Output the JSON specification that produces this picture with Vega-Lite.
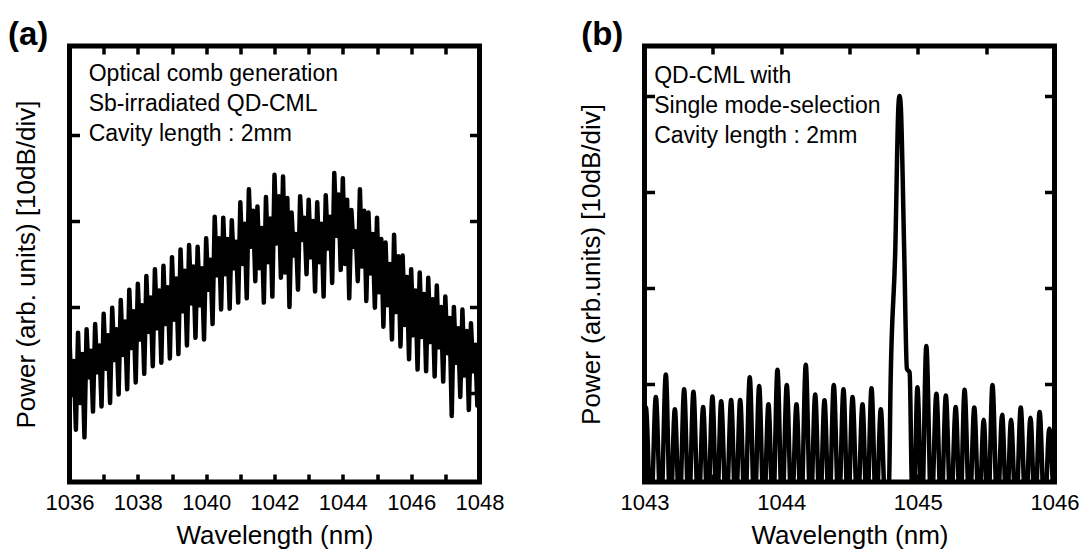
{
  "$schema": "https://vega.github.io/schema/vega-lite/v6.json",
  "autosize": {"type": "pad"},
  "padding": {"left": 5.5, "top": 16, "right": 5, "bottom": 0},
  "background": "white",
  "bounds": "flush",
  "spacing": 165,
  "config": {
    "view": {"stroke": "black", "strokeWidth": 5},
    "font": "Liberation Sans",
    "axis": {
      "domain": false, "grid": false, "ticks": true, "tickColor": "black", "tickWidth": 3.5, "tickOpacity": 1,
      "labelColor": "black", "titleColor": "black",
      "labelFont": "Liberation Sans", "titleFont": "Liberation Sans",
      "labelFontSize": 22, "titleFontSize": 26, "titleFontWeight": "normal",
      "labelFlush": false, "labelOverlap": false
    },
    "text": {"font": "Liberation Sans", "color": "black"}
  },
  "datasets": {
    "combA": [
      {"w":1036,"p":1.62},{"w":1036.0625,"p":0.97},{"w":1036.125,"p":1.37},{"w":1036.1875,"p":0.57},
      {"w":1036.25,"p":1.70},{"w":1036.3125,"p":0.88},{"w":1036.375,"p":1.45},{"w":1036.4375,"p":0.48},
      {"w":1036.5,"p":1.74},{"w":1036.5625,"p":1.18},{"w":1036.625,"p":1.49},{"w":1036.6875,"p":0.78},
      {"w":1036.75,"p":1.80},{"w":1036.8125,"p":1.24},{"w":1036.875,"p":1.55},{"w":1036.9375,"p":0.84},
      {"w":1037,"p":1.92},{"w":1037.0625,"p":1.28},{"w":1037.125,"p":1.67},{"w":1037.1875,"p":0.88},
      {"w":1037.25,"p":1.99},{"w":1037.3125,"p":1.38},{"w":1037.375,"p":1.74},{"w":1037.4375,"p":0.98},
      {"w":1037.5,"p":2.08},{"w":1037.5625,"p":1.44},{"w":1037.625,"p":1.83},{"w":1037.6875,"p":1.04},
      {"w":1037.75,"p":2.20},{"w":1037.8125,"p":1.52},{"w":1037.875,"p":1.95},{"w":1037.9375,"p":1.12},
      {"w":1038,"p":2.27},{"w":1038.0625,"p":1.62},{"w":1038.125,"p":2.02},{"w":1038.1875,"p":1.22},
      {"w":1038.25,"p":2.36},{"w":1038.3125,"p":1.71},{"w":1038.375,"p":2.11},{"w":1038.4375,"p":1.31},
      {"w":1038.5,"p":2.44},{"w":1038.5625,"p":1.75},{"w":1038.625,"p":2.19},{"w":1038.6875,"p":1.35},
      {"w":1038.75,"p":2.48},{"w":1038.8125,"p":1.80},{"w":1038.875,"p":2.23},{"w":1038.9375,"p":1.40},
      {"w":1039,"p":2.58},{"w":1039.0625,"p":1.85},{"w":1039.125,"p":2.33},{"w":1039.1875,"p":1.45},
      {"w":1039.25,"p":2.67},{"w":1039.3125,"p":1.95},{"w":1039.375,"p":2.42},{"w":1039.4375,"p":1.55},
      {"w":1039.5,"p":2.72},{"w":1039.5625,"p":2.04},{"w":1039.625,"p":2.47},{"w":1039.6875,"p":1.64},
      {"w":1039.75,"p":2.70},{"w":1039.8125,"p":2.02},{"w":1039.875,"p":2.45},{"w":1039.9375,"p":1.62},
      {"w":1040,"p":2.80},{"w":1040.0625,"p":2.20},{"w":1040.125,"p":2.55},{"w":1040.1875,"p":1.80},
      {"w":1040.25,"p":3.05},{"w":1040.3125,"p":2.37},{"w":1040.375,"p":2.80},{"w":1040.4375,"p":1.97},
      {"w":1040.5,"p":3.04},{"w":1040.5625,"p":2.38},{"w":1040.625,"p":2.79},{"w":1040.6875,"p":1.98},
      {"w":1040.75,"p":3.01},{"w":1040.8125,"p":2.45},{"w":1040.875,"p":2.76},{"w":1040.9375,"p":2.05},
      {"w":1041,"p":3.22},{"w":1041.0625,"p":2.50},{"w":1041.125,"p":2.97},{"w":1041.1875,"p":2.10},
      {"w":1041.25,"p":3.37},{"w":1041.3125,"p":2.70},{"w":1041.375,"p":3.12},{"w":1041.4375,"p":2.30},
      {"w":1041.5,"p":3.17},{"w":1041.5625,"p":2.45},{"w":1041.625,"p":2.92},{"w":1041.6875,"p":2.05},
      {"w":1041.75,"p":3.28},{"w":1041.8125,"p":2.52},{"w":1041.875,"p":3.03},{"w":1041.9375,"p":2.12},
      {"w":1042,"p":3.54},{"w":1042.0625,"p":2.74},{"w":1042.125,"p":3.29},{"w":1042.1875,"p":2.34},
      {"w":1042.25,"p":3.52},{"w":1042.3125,"p":2.40},{"w":1042.375,"p":3.27},{"w":1042.4375,"p":2.00},
      {"w":1042.5,"p":3.10},{"w":1042.5625,"p":2.60},{"w":1042.625,"p":2.85},{"w":1042.6875,"p":2.20},
      {"w":1042.75,"p":3.29},{"w":1042.8125,"p":2.78},{"w":1042.875,"p":3.04},{"w":1042.9375,"p":2.38},
      {"w":1043,"p":3.25},{"w":1043.0625,"p":2.58},{"w":1043.125,"p":3.00},{"w":1043.1875,"p":2.18},
      {"w":1043.25,"p":3.22},{"w":1043.3125,"p":2.52},{"w":1043.375,"p":2.97},{"w":1043.4375,"p":2.12},
      {"w":1043.5,"p":3.30},{"w":1043.5625,"p":2.68},{"w":1043.625,"p":3.05},{"w":1043.6875,"p":2.28},
      {"w":1043.75,"p":3.56},{"w":1043.8125,"p":2.83},{"w":1043.875,"p":3.31},{"w":1043.9375,"p":2.43},
      {"w":1044,"p":3.50},{"w":1044.0625,"p":2.50},{"w":1044.125,"p":3.25},{"w":1044.1875,"p":2.10},
      {"w":1044.25,"p":3.13},{"w":1044.3125,"p":2.70},{"w":1044.375,"p":2.88},{"w":1044.4375,"p":2.30},
      {"w":1044.5,"p":3.37},{"w":1044.5625,"p":2.47},{"w":1044.625,"p":3.12},{"w":1044.6875,"p":2.07},
      {"w":1044.75,"p":3.10},{"w":1044.8125,"p":2.39},{"w":1044.875,"p":2.85},{"w":1044.9375,"p":1.99},
      {"w":1045,"p":3.04},{"w":1045.0625,"p":2.17},{"w":1045.125,"p":2.79},{"w":1045.1875,"p":1.77},
      {"w":1045.25,"p":2.75},{"w":1045.3125,"p":2.02},{"w":1045.375,"p":2.50},{"w":1045.4375,"p":1.62},
      {"w":1045.5,"p":2.84},{"w":1045.5625,"p":1.94},{"w":1045.625,"p":2.59},{"w":1045.6875,"p":1.54},
      {"w":1045.75,"p":2.60},{"w":1045.8125,"p":1.79},{"w":1045.875,"p":2.35},{"w":1045.9375,"p":1.39},
      {"w":1046,"p":2.44},{"w":1046.0625,"p":1.67},{"w":1046.125,"p":2.19},{"w":1046.1875,"p":1.27},
      {"w":1046.25,"p":2.40},{"w":1046.3125,"p":1.65},{"w":1046.375,"p":2.15},{"w":1046.4375,"p":1.25},
      {"w":1046.5,"p":2.34},{"w":1046.5625,"p":1.59},{"w":1046.625,"p":2.09},{"w":1046.6875,"p":1.19},
      {"w":1046.75,"p":2.25},{"w":1046.8125,"p":1.53},{"w":1046.875,"p":2.00},{"w":1046.9375,"p":1.13},
      {"w":1047,"p":2.12},{"w":1047.0625,"p":1.46},{"w":1047.125,"p":1.87},{"w":1047.1875,"p":0.73},
      {"w":1047.25,"p":2.00},{"w":1047.3125,"p":1.35},{"w":1047.375,"p":1.75},{"w":1047.4375,"p":0.95},
      {"w":1047.5,"p":1.97},{"w":1047.5625,"p":1.20},{"w":1047.625,"p":1.72},{"w":1047.6875,"p":0.80},
      {"w":1047.75,"p":1.81},{"w":1047.8125,"p":1.25},{"w":1047.875,"p":1.56},{"w":1047.9375,"p":0.85},
      {"w":1048,"p":1.75}
    ],
    "combB": [
      {"w":1042.976,"p":-0.4},{"w":1043.010,"p":0.755},{"w":1043.047,"p":-0.4},{"w":1043.083,"p":0.865},
      {"w":1043.120,"p":-0.4},{"w":1043.156,"p":1.10},{"w":1043.189,"p":-0.4},{"w":1043.222,"p":0.737},
      {"w":1043.256,"p":-0.4},{"w":1043.290,"p":0.945},{"w":1043.324,"p":-0.4},{"w":1043.358,"p":0.92},
      {"w":1043.394,"p":-0.4},{"w":1043.429,"p":0.76},{"w":1043.463,"p":-0.4},{"w":1043.497,"p":0.87},
      {"w":1043.529,"p":-0.4},{"w":1043.561,"p":0.82},{"w":1043.598,"p":-0.4},{"w":1043.634,"p":0.835},
      {"w":1043.667,"p":-0.4},{"w":1043.700,"p":0.835},{"w":1043.735,"p":-0.4},{"w":1043.770,"p":1.07},
      {"w":1043.805,"p":-0.4},{"w":1043.839,"p":0.98},{"w":1043.873,"p":-0.4},{"w":1043.907,"p":0.79},
      {"w":1043.940,"p":-0.4},{"w":1043.973,"p":1.15},{"w":1044.007,"p":-0.4},{"w":1044.041,"p":0.99},
      {"w":1044.077,"p":-0.4},{"w":1044.112,"p":0.79},{"w":1044.146,"p":-0.4},{"w":1044.180,"p":1.20},
      {"w":1044.215,"p":-0.4},{"w":1044.249,"p":0.89},{"w":1044.283,"p":-0.4},{"w":1044.317,"p":0.83},
      {"w":1044.351,"p":-0.4},{"w":1044.385,"p":0.99},{"w":1044.421,"p":-0.4},{"w":1044.456,"p":0.945},
      {"w":1044.489,"p":-0.4},{"w":1044.522,"p":0.865},{"w":1044.559,"p":-0.4},{"w":1044.595,"p":0.79},
      {"w":1044.628,"p":-0.4},{"w":1044.661,"p":0.955},{"w":1044.695,"p":-0.4},{"w":1044.729,"p":0.737},
      {"w":1044.765,"p":-0.4},{"w":1044.790,"p":0.0},{"w":1044.800,"p":0.95},{"w":1044.835,"p":2.4},
      {"w":1044.858,"p":3.9},{"w":1044.866,"p":4.0},{"w":1044.875,"p":3.9},{"w":1044.900,"p":2.4},
      {"w":1044.920,"p":1.16},{"w":1044.940,"p":1.12},{"w":1044.955,"p":0.0},{"w":1044.970,"p":-0.4},
      {"w":1044.997,"p":0.967},{"w":1045.030,"p":-0.4},{"w":1045.062,"p":1.395},{"w":1045.099,"p":-0.4},
      {"w":1045.136,"p":0.90},{"w":1045.171,"p":-0.4},{"w":1045.205,"p":0.88},{"w":1045.241,"p":-0.4},
      {"w":1045.277,"p":0.76},{"w":1045.310,"p":-0.4},{"w":1045.342,"p":0.94},{"w":1045.378,"p":-0.4},
      {"w":1045.413,"p":0.755},{"w":1045.448,"p":-0.4},{"w":1045.482,"p":0.627},{"w":1045.514,"p":-0.4},
      {"w":1045.546,"p":0.99},{"w":1045.582,"p":-0.4},{"w":1045.617,"p":0.68},{"w":1045.650,"p":-0.4},
      {"w":1045.682,"p":0.627},{"w":1045.718,"p":-0.4},{"w":1045.753,"p":0.755},{"w":1045.789,"p":-0.4},
      {"w":1045.824,"p":0.65},{"w":1045.858,"p":-0.4},{"w":1045.891,"p":0.71},{"w":1045.927,"p":-0.4},
      {"w":1045.962,"p":0.535},{"w":1045.996,"p":-0.4}
    ],
    "notesA": [
      {"w":1036.562,"p":4.632,"t":"Optical comb generation"},
      {"w":1036.562,"p":4.283,"t":"Sb-irradiated QD-CML"},
      {"w":1036.562,"p":3.933,"t":"Cavity length : 2mm"}
    ],
    "tagA": [{"w":1034.2,"p":5.052,"t":"(a)"}],
    "notesB": [
      {"w":1043.071,"p":4.135,"t":"QD-CML with"},
      {"w":1043.071,"p":3.822,"t":"Single mode-selection"},
      {"w":1043.071,"p":3.510,"t":"Cavity length : 2mm"}
    ],
    "tagB": [{"w":1042.537,"p":4.530,"t":"(b)"}]
  },
  "hconcat": [
    {
      "width": 410, "height": 436,
      "layer": [
        {
          "data": {"name": "combA"},
          "mark": {"type": "line", "color": "black", "strokeWidth": 4.5, "strokeJoin": "round", "clip": true},
          "encoding": {
            "x": {"field": "w", "type": "quantitative",
              "scale": {"domain": [1036, 1048], "nice": false, "zero": false},
              "axis": {"orient": "bottom", "values": [1036,1037,1038,1039,1040,1041,1042,1043,1044,1045,1046,1047,1048],
                "labelExpr": "datum.value % 2 === 0 ? format(datum.value, 'd') : ''",
                "offset": -8, "tickSize": 8,
                "labelPadding": 10, "title": "Wavelength (nm)", "titlePadding": 9}},
            "y": {"field": "p", "type": "quantitative",
              "scale": {"domain": [-0.04, 5.04], "nice": false, "zero": false},
              "axis": {"orient": "left", "values": [1,2,3,4], "labels": false, "tickSize": -10,
                "title": "Power (arb. units) [10dB/div]", "titlePadding": 28}}
          }
        },
        {
          "data": {"name": "notesA"},
          "mark": {"type": "text", "align": "left", "baseline": "alphabetic", "fontSize": 23, "color": "black"},
          "encoding": {
            "x": {"field": "w", "type": "quantitative",
              "scale": {"domain": [1036, 1048], "nice": false, "zero": false},
              "axis": {"orient": "top", "values": [1036,1037,1038,1039,1040,1041,1042,1043,1044,1045,1046,1047,1048],
                "labels": false, "title": null, "offset": -8, "tickSize": 8}},
            "y": {"field": "p", "type": "quantitative",
              "scale": {"domain": [-0.04, 5.04], "nice": false, "zero": false},
              "axis": {"orient": "right", "values": [1,2,3,4], "labels": false, "tickSize": -10, "title": null}},
            "text": {"field": "t"}
          }
        },
        {
          "data": {"name": "tagA"},
          "mark": {"type": "text", "align": "left", "baseline": "alphabetic", "fontSize": 33, "fontWeight": "bold", "color": "black"},
          "encoding": {
            "x": {"field": "w", "type": "quantitative", "axis": null},
            "y": {"field": "p", "type": "quantitative", "axis": null},
            "text": {"field": "t"}
          }
        }
      ]
    },
    {
      "width": 410, "height": 436,
      "layer": [
        {
          "data": {"name": "combB"},
          "mark": {"type": "line", "color": "black", "strokeWidth": 4.5, "strokeJoin": "round", "interpolate": "monotone", "clip": true},
          "encoding": {
            "x": {"field": "w", "type": "quantitative",
              "scale": {"domain": [1043, 1046], "nice": false, "zero": false},
              "axis": {"orient": "bottom", "values": [1043,1043.5,1044,1044.5,1045,1045.5,1046],
                "labelExpr": "datum.value % 1 === 0 ? format(datum.value, 'd') : ''",
                "offset": -8, "tickSize": 8,
                "labelPadding": 10, "title": "Wavelength (nm)", "titlePadding": 9}},
            "y": {"field": "p", "type": "quantitative",
              "scale": {"domain": [-0.02, 4.52], "nice": false, "zero": false},
              "axis": {"orient": "left", "values": [1,2,3,4], "labels": false, "tickSize": -10,
                "title": "Power (arb.units) [10dB/div]", "titlePadding": 38}}
          }
        },
        {
          "data": {"name": "notesB"},
          "mark": {"type": "text", "align": "left", "baseline": "alphabetic", "fontSize": 23, "color": "black"},
          "encoding": {
            "x": {"field": "w", "type": "quantitative",
              "scale": {"domain": [1043, 1046], "nice": false, "zero": false},
              "axis": {"orient": "top", "values": [1043,1043.5,1044,1044.5,1045,1045.5,1046],
                "labels": false, "title": null, "offset": -8, "tickSize": 8}},
            "y": {"field": "p", "type": "quantitative",
              "scale": {"domain": [-0.02, 4.52], "nice": false, "zero": false},
              "axis": {"orient": "right", "values": [1,2,3,4], "labels": false, "tickSize": -10, "title": null}},
            "text": {"field": "t"}
          }
        },
        {
          "data": {"name": "tagB"},
          "mark": {"type": "text", "align": "left", "baseline": "alphabetic", "fontSize": 33, "fontWeight": "bold", "color": "black"},
          "encoding": {
            "x": {"field": "w", "type": "quantitative", "axis": null},
            "y": {"field": "p", "type": "quantitative", "axis": null},
            "text": {"field": "t"}
          }
        }
      ]
    }
  ]
}
